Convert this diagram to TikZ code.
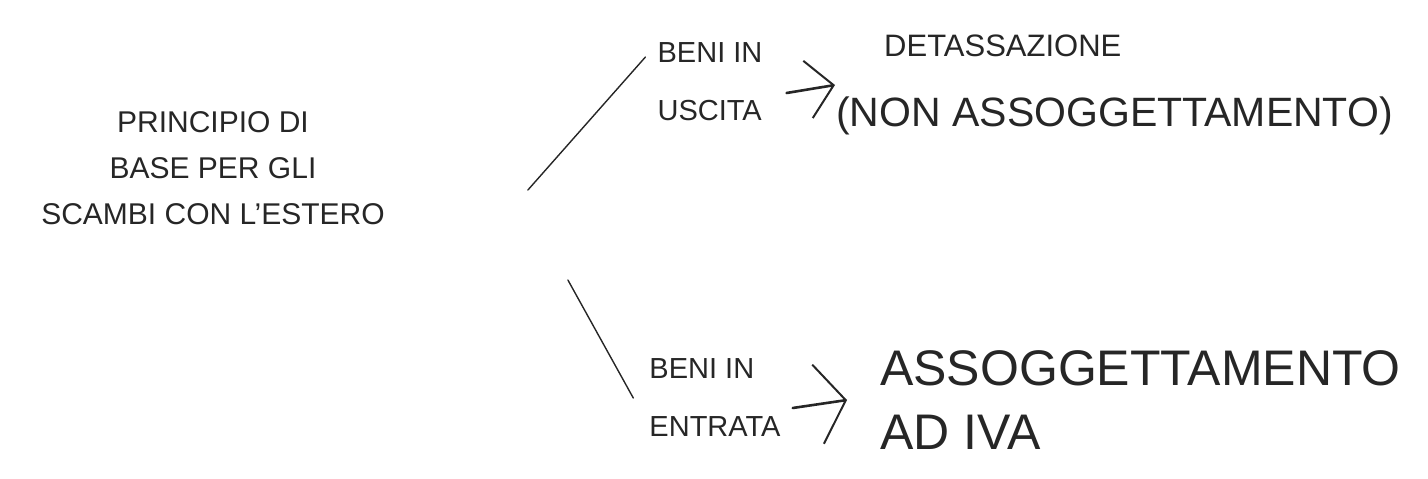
\documentclass[tikz,border=0pt]{standalone}
\usepackage{fontspec}
\setmainfont{Liberation Sans}
\usetikzlibrary{positioning,arrows.meta}

\begin{document}
\begin{tikzpicture}[
    x=1pt, y=-1pt,
    note/.style={inner sep=0pt, align=left, text=black!85},
    basenote/.style={note, align=center, font=\fontsize{30}{46}\selectfont},
    goodsnote/.style={note, font=\fontsize{29}{58}\selectfont},
    resultnote/.style={note, font=\fontsize{41}{64}\selectfont},
    branch/.style={line width=1.4pt, line cap=round, black!85},
    pointer/.style={-{Straight Barb[length=26pt, width=58pt, line width=2pt]},
                    line width=2.6pt, line cap=round, black!85},
  ]
    \useasboundingbox (0,0) rectangle (1428,479);

    % Principio (left)
    \node[basenote] (principio) at (213,168)
        {PRINCIPIO DI\\BASE PER GLI\\SCAMBI CON L'ESTERO};

    % Beni (middle)
    \node[goodsnote] (uscita) at (710,82) {BENI IN\\USCITA};
    \node[goodsnote] (entrata) at (715,398) {BENI IN\\ENTRATA};

    % Effetti (right)
    \node[resultnote, anchor=west] (detass) at (836,85)
        {\hspace*{48pt}{\fontsize{31}{31}\selectfont DETASSAZIONE}\\[6pt](NON ASSOGGETTAMENTO)};
    \node[resultnote, anchor=west, font=\fontsize{50}{64}\selectfont] (assogg) at (880,400)
        {ASSOGGETTAMENTO\\AD IVA};

    % Biforcazione
    \draw[branch] ([xshift=143pt, yshift=-22pt]principio.east)
               -- ([xshift=-12pt, yshift=25pt]uscita.west);
    \draw[branch] ([xshift=183pt, yshift=-112pt]principio.east)
               -- ([xshift=-16pt, yshift=0pt]entrata.west);

    % Frecce
    \draw[pointer] ([xshift=24pt, yshift=-11pt]uscita.east) -- ([xshift=-1pt]detass.west);
    \draw[pointer, -{Straight Barb[length=28pt, width=80pt, line width=2pt]}]
        ([xshift=12pt, yshift=-10pt]entrata.east) -- ([xshift=-33pt]assogg.west);
\end{tikzpicture}
\end{document}
